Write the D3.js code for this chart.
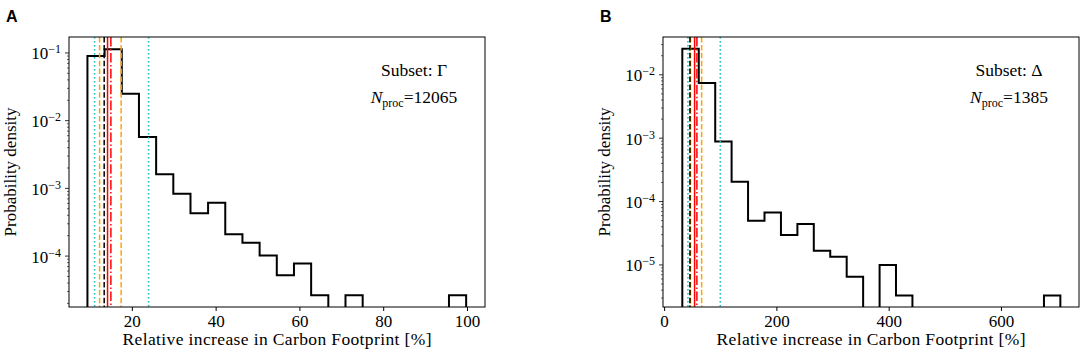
<!DOCTYPE html>
<html>
<head>
<meta charset="utf-8">
<script src="https://cdn.jsdelivr.net/npm/d3@7"></script>
<style>
  body { margin: 0; background: #fff; }
  text { font-family: "Liberation Serif", "DejaVu Serif", serif; fill: #000; }
</style>
</head>
<body>
<script>
// ----------------------------------------
//  Data
// ----------------------------------------

// panel A: subset Gamma
var edgesA = [9.4, 13.5, 17.6, 21.7, 25.8, 29.9, 34.0, 38.2, 42.3, 46.4, 50.5, 54.6,
              58.7, 62.8, 66.9, 71.0, 75.1, 79.3, 83.4, 87.5, 91.6, 95.7, 99.8];
var densA = [0.090, 0.113, 0.025, 0.00574, 0.00161, 0.000836, 0.000428, 0.000615,
             0.00021, 0.000158, 0.000102, 5.2e-5, 7.8e-5, 2.63e-5, 0, 2.63e-5,
             0, 0, 0, 0, 0, 2.63e-5];
var linesA = [
  { x: 11.1, kind: "cyan" }, { x: 12.3, kind: "orange" }, { x: 13.4, kind: "black" },
  { x: 14.2, kind: "red" }, { x: 15.0, kind: "reddot" }, { x: 17.45, kind: "orange" },
  { x: 24.0, kind: "cyan" }
];
var xTicksA = [20, 40, 60, 80, 100];
var yTicksA = [-1, -2, -3, -4];

// panel B: subset Delta
var edgesB = [32.4, 61.7, 91.0, 120.2, 149.5, 178.8, 208.1, 237.4, 266.6, 295.9, 325.2,
              354.5, 383.8, 413.0, 442.3, 471.6, 500.9, 530.2, 559.4, 588.7, 618.0,
              647.3, 676.6, 705.8];
var densB = [0.0257, 0.0074, 0.000886, 0.000206, 5.0e-5, 6.7e-5, 2.97e-5, 4.43e-5,
             1.68e-5, 1.35e-5, 6.5e-6, 0, 1.0e-5, 3.3e-6, 0, 0, 0, 0, 0, 0, 0, 0, 3.3e-6];
var linesB = [
  { x: 42.4, kind: "cyan" }, { x: 47.0, kind: "orange" }, { x: 46.0, kind: "black" },
  { x: 54.3, kind: "red" }, { x: 58.4, kind: "reddot" }, { x: 66.8, kind: "orange" },
  { x: 100.0, kind: "cyan" }
];
var xTicksB = [0, 200, 400, 600];
var yTicksB = [-2, -3, -4, -5];

// ----------------------------------------
//  Styles
// ----------------------------------------

var lineStyle = {
  cyan:   { color: "#17bfc4", dash: "1.5,2.5" },
  orange: { color: "#ffa500", dash: "5.5,2.4" },
  black:  { color: "#000000", dash: "5.5,2.4" },
  red:    { color: "#ff0000", dash: null },
  reddot: { color: "#ff0000", dash: "9.6,2.4,1.5,2.4" }
};

var svg = d3.select("body").append("svg")
    .attr("width", 1084)
    .attr("height", 360);

function panel(opt) {
  var width = 416, height = 270;
  var g = svg.append("g")
      .attr("transform", "translate(" + opt.left + "," + opt.top + ")");

  var x = d3.scaleLinear().domain(opt.xDomain).range([0, width]);
  var y = d3.scaleLog().domain(opt.yDomain).range([height, 0]);

  var clipId = "clip" + opt.letter;
  g.append("clipPath").attr("id", clipId)
    .append("rect").attr("width", width).attr("height", height);

  var plot = g.append("g").attr("clip-path", "url(#" + clipId + ")");

  // step histogram outline (empty bins fall below the axis and get clipped)
  function yv(v) { return v > 0 ? y(v) : height + 5; }
  var pts = [[x(opt.edges[0]), height + 5]];
  opt.dens.forEach(function(d, i) {
    pts.push([x(opt.edges[i]), yv(d)]);
    pts.push([x(opt.edges[i + 1]), yv(d)]);
  });
  pts.push([x(opt.edges[opt.edges.length - 1]), height + 5]);
  plot.append("path")
    .attr("d", d3.line()(pts))
    .attr("fill", "none")
    .attr("stroke", "#000")
    .attr("stroke-width", 2)
    .attr("stroke-linejoin", "miter");

  // vertical reference lines
  plot.selectAll(".vline")
    .data(opt.lines)
    .enter()
    .append("line")
    .attr("class", "vline")
    .attr("x1", function(d) { return x(d.x); })
    .attr("x2", function(d) { return x(d.x); })
    .attr("y1", 0)
    .attr("y2", height)
    .attr("stroke", function(d) { return lineStyle[d.kind].color; })
    .attr("stroke-width", 1.5)
    .attr("stroke-dasharray", function(d) { return lineStyle[d.kind].dash; });

  // frame
  g.append("rect")
    .attr("width", width).attr("height", height)
    .attr("fill", "none").attr("stroke", "#000").attr("stroke-width", 1);

  // x axis
  var xa = g.append("g")
    .attr("transform", "translate(0," + height + ")")
    .call(d3.axisBottom(x).tickValues(opt.xTicks).tickSize(4).tickPadding(4)
      .tickFormat(d3.format("d")));
  xa.select(".domain").remove();
  xa.selectAll("text").style("font-size", "17px")
    .style("font-family", "'Liberation Serif', serif");

  // y axis: minor ticks
  var minor = [];
  var lo = Math.floor(Math.log10(opt.yDomain[0])), hi = Math.ceil(Math.log10(opt.yDomain[1]));
  for (var e = lo; e < hi; e++) {
    for (var m = 2; m <= 9; m++) {
      var v = m * Math.pow(10, e);
      if (v >= opt.yDomain[0] && v <= opt.yDomain[1]) minor.push(v);
    }
  }
  g.selectAll(".minor")
    .data(minor)
    .enter()
    .append("line")
    .attr("x1", -2).attr("x2", 0)
    .attr("y1", function(d) { return y(d); })
    .attr("y2", function(d) { return y(d); })
    .attr("stroke", "#000").attr("stroke-width", 0.6);

  // y axis: major ticks with 10^n labels
  var ya = g.selectAll(".ytick")
    .data(opt.yTicks)
    .enter()
    .append("g")
    .attr("transform", function(d) { return "translate(0," + y(Math.pow(10, d)) + ")"; });
  ya.append("line").attr("x1", -4).attr("x2", 0).attr("stroke", "#000").attr("stroke-width", 0.8);
  var yt = ya.append("text")
    .attr("x", -8).attr("dy", "0.38em")
    .attr("text-anchor", "end")
    .style("font-size", "17px");
  yt.append("tspan").text("10");
  yt.append("tspan")
    .attr("dy", "-0.5em")
    .style("font-size", "12px")
    .text(function(d) { return "\u2212" + Math.abs(d); });

  // axis titles
  g.append("text")
    .attr("x", width / 2).attr("y", height + 38)
    .attr("text-anchor", "middle")
    .attr("textLength", 309)
    .attr("lengthAdjust", "spacing")
    .style("font-size", "17.5px")
    .text("Relative increase in Carbon Footprint [%]");
  g.append("text")
    .attr("transform", "translate(" + opt.yLabelX + "," + (height / 2) + ") rotate(-90)")
    .attr("text-anchor", "middle")
    .style("font-size", "17px")
    .text("Probability density");

  // annotation
  g.append("text")
    .attr("x", opt.noteX).attr("y", 39)
    .attr("text-anchor", "middle")
    .style("font-size", "17.5px")
    .text("Subset: " + opt.subset);
  var n = g.append("text")
    .attr("x", opt.noteX).attr("y", 66)
    .attr("text-anchor", "middle")
    .style("font-size", "17.5px");
  n.append("tspan").style("font-style", "italic").text("N");
  n.append("tspan").attr("dy", 4).style("font-size", "12px").text("proc");
  n.append("tspan").attr("dy", -4).text("=" + opt.nproc);

  // panel letter
  svg.append("text")
    .attr("x", opt.letterX).attr("y", 22)
    .style("font-family", "'Liberation Sans', Arial, sans-serif")
    .style("font-weight", "bold")
    .style("font-size", "16px")
    .text(opt.letter);
}

panel({
  letter: "A", letterX: 6, left: 69, top: 37,
  xDomain: [5.0, 104.3], yDomain: [1.77e-5, 0.172],
  edges: edgesA, dens: densA, lines: linesA,
  xTicks: xTicksA, yTicks: yTicksA,
  subset: "\u0393", nproc: 12065, noteX: 345, yLabelX: -53
});

panel({
  letter: "B", letterX: 600, left: 663, top: 37,
  xDomain: [-2, 739], yDomain: [2.17e-6, 0.0395],
  edges: edgesB, dens: densB, lines: linesB,
  xTicks: xTicksB, yTicks: yTicksB,
  subset: "\u0394", nproc: 1385, noteX: 346, yLabelX: -53
});
</script>
</body>
</html>
